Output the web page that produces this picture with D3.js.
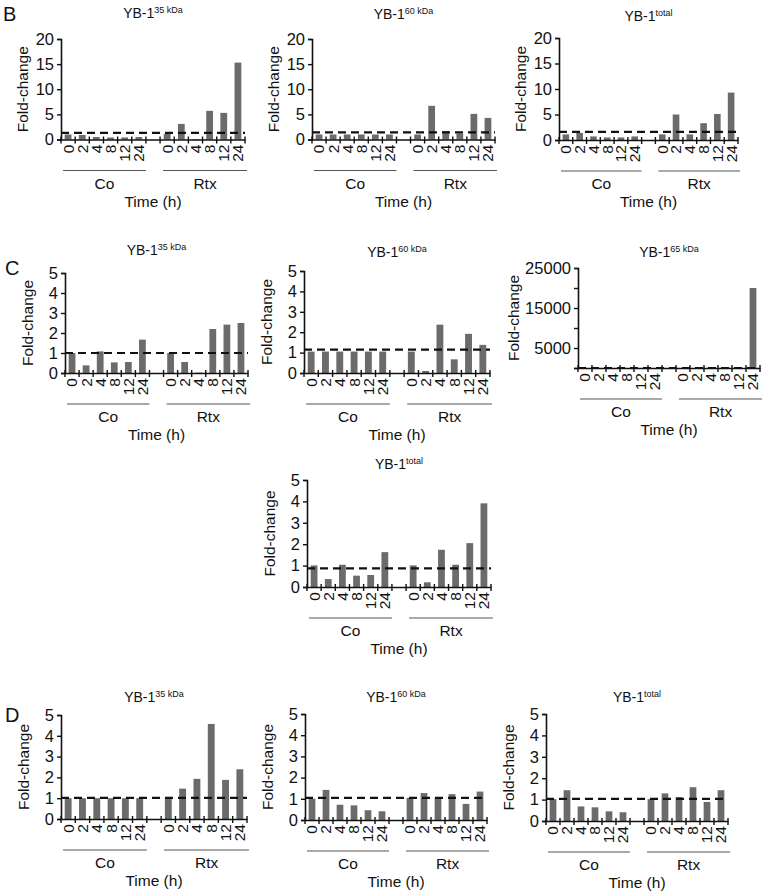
<!DOCTYPE html>
<html>
<head>
<meta charset="utf-8">
<script src="https://cdn.jsdelivr.net/npm/d3@7"></script>
<style>
  html, body { margin: 0; padding: 0; background: #fff; }
  svg { display: block; }
  text { font-family: "Liberation Sans", Arial, Helvetica, sans-serif; fill: #111; }
</style>
</head>
<body>
<svg id="chart" width="765" height="896"></svg>
<script>
// ---------------- DATA ----------------
const timePoints = ["0", "2", "4", "8", "12", "24"];
const groups = ["Co", "Rtx"];
const yTicks5 = [0, 1, 2, 3, 4, 5];
const yTicks20 = [0, 5, 10, 15, 20];
const yTicks25000 = [0, 5000, 10000, 15000, 20000, 25000];
const yTickLabels25000 = ["", "5000", "", "15000", "", "25000"];

// Panel B
const bTitles = ["35 kDa", "60 kDa", "total"];
const b35Co  = [1.0, 0.9, 0.5, 0.4, 0.4, 0.5];
const b35Rtx = [1.1, 3.1, 0.1, 5.7, 5.3, 15.3];
const b60Co  = [1.0, 1.0, 1.0, 1.0, 1.0, 1.0];
const b60Rtx = [1.0, 6.7, 1.7, 1.2, 5.1, 4.3];
const bTotCo  = [1.1, 1.4, 0.7, 0.5, 0.5, 0.7];
const bTotRtx = [1.1, 5.0, 1.1, 3.3, 5.1, 9.3];
const bThresholds = [1.3, 1.4, 1.6];

// Panel C
const cTitles = ["35 kDa", "60 kDa", "65 kDa", "total"];
const c35Co  = [1.0, 0.38, 1.08, 0.53, 0.55, 1.67];
const c35Rtx = [1.0, 0.55, 0.02, 2.2, 2.42, 2.5];
const c60Co  = [1.05, 1.05, 1.05, 1.05, 1.05, 1.05];
const c60Rtx = [1.05, 0.1, 2.37, 0.67, 1.92, 1.38];
const c65Co  = [1, 1, 1, 1, 1, 1];
const c65Rtx = [1, 2, 3, 5, 10, 20000];
const cTotCo  = [1.01, 0.37, 1.04, 0.53, 0.56, 1.63];
const cTotRtx = [1.01, 0.22, 1.74, 1.04, 2.05, 3.91];
const cThresholds = [1.0, 1.15, 1, 0.87];

// Panel D
const dTitles = ["35 kDa", "60 kDa", "total"];
const d35Co  = [1.0, 1.0, 1.0, 1.0, 1.0, 1.0];
const d35Rtx = [1.0, 1.46, 1.93, 4.57, 1.88, 2.39];
const d60Co  = [1.0, 1.42, 0.72, 0.69, 0.46, 0.41];
const d60Rtx = [1.04, 1.27, 1.04, 1.22, 0.76, 1.34];
const dTotCo  = [1.02, 1.44, 0.68, 0.64, 0.45, 0.41];
const dTotRtx = [1.02, 1.29, 1.12, 1.58, 0.89, 1.44];
const dThresholds = [1.02, 1.04, 1.03];

// ---------------- DRAWING ----------------
const svg = d3.select("#chart");
const BAR_COLOR = "#6b6b6b";
const FONT = "Liberation Sans, Arial, Helvetica, sans-serif";

function drawPanel(p) {
  const keys = [];
  timePoints.forEach(t => keys.push("Co|" + t));
  keys.push("gap");
  timePoints.forEach(t => keys.push("Rtx|" + t));

  const data = [];
  timePoints.forEach((t, i) => data.push({ key: "Co|" + t, v: p.co[i] }));
  timePoints.forEach((t, i) => data.push({ key: "Rtx|" + t, v: p.rtx[i] }));

  const x = d3.scaleBand().domain(keys).range([p.x0, p.x1]).paddingInner(0).paddingOuter(0);
  const y = d3.scaleLinear().domain([0, p.ymax]).range([p.yB, p.yT]);
  const g = svg.append("g");

  // bars
  const bw = x.bandwidth();
  const barW = bw * 0.48;
  g.selectAll("rect.bar").data(data).enter().append("rect")
    .attr("x", d => x(d.key) + (bw - barW) / 2)
    .attr("y", d => y(d.v))
    .attr("width", barW)
    .attr("height", d => Math.max(0, y(0) - y(d.v)))
    .attr("fill", BAR_COLOR);

  // y axis
  const yAxis = d3.axisLeft(y).tickValues(p.yTicks).tickSize(4).tickPadding(3)
    .tickFormat((d, i) => p.yTickLabels ? p.yTickLabels[i] : d3.format("d")(d));
  const ya = g.append("g").attr("transform", `translate(${p.x0},0)`).call(yAxis);
  ya.select(".domain").attr("stroke", "#111").attr("stroke-width", 1.6);
  ya.selectAll(".tick line").attr("stroke", "#111").attr("stroke-width", 1.4);
  ya.selectAll(".tick text").attr("font-size", 16.5).attr("font-family", FONT).attr("fill", "#111");

  // x axis
  const xAxis = d3.axisBottom(x).tickSize(0).tickPadding(0)
    .tickFormat(k => k === "gap" ? "" : k.split("|")[1]);
  const xa = g.append("g").attr("transform", `translate(0,${p.yB})`).call(xAxis);
  xa.select(".domain").attr("stroke", "#111").attr("stroke-width", 1.6);
  xa.selectAll(".tick text")
    .attr("font-size", 15.5).attr("font-family", FONT).attr("fill", "#111")
    .attr("transform", "rotate(-90)")
    .attr("x", -5).attr("y", 0).attr("dy", "0.35em")
    .style("text-anchor", "end");

  // boundary tick marks
  const bounds = d3.range(keys.length + 1).map(i => p.x0 + i * x.step());
  g.selectAll("line.btick").data(bounds).enter().append("line")
    .attr("x1", d => d).attr("x2", d => d)
    .attr("y1", p.yB - 3).attr("y2", p.yB + 4)
    .attr("stroke", "#111").attr("stroke-width", 1.4);

  // threshold dashed line
  g.append("line")
    .attr("x1", p.x0).attr("x2", p.x1)
    .attr("y1", y(p.thr)).attr("y2", y(p.thr))
    .attr("stroke", "#111").attr("stroke-width", 2.2)
    .attr("stroke-dasharray", "8,5");

  // group lines & labels
  const lineY = p.yB + 31;
  const coStart = p.x0 + 2, coEnd = x("Co|24") + bw;
  const rtStart = x("Rtx|0") + 3, rtEnd = p.x1 + 2;
  g.append("line").attr("x1", coStart).attr("x2", coEnd).attr("y1", lineY).attr("y2", lineY)
    .attr("stroke", "#555").attr("stroke-width", 1);
  g.append("line").attr("x1", rtStart).attr("x2", rtEnd).attr("y1", lineY).attr("y2", lineY)
    .attr("stroke", "#555").attr("stroke-width", 1);
  g.append("text").attr("x", (coStart + coEnd) / 2).attr("y", lineY + 18)
    .attr("text-anchor", "middle").attr("font-size", 15.5).text(groups[0]);
  g.append("text").attr("x", (rtStart + rtEnd) / 2).attr("y", lineY + 18)
    .attr("text-anchor", "middle").attr("font-size", 15.5).text(groups[1]);
  g.append("text").attr("x", (p.x0 + p.x1) / 2).attr("y", lineY + 36)
    .attr("text-anchor", "middle").attr("font-size", 15.5).text("Time (h)");

  // y label
  g.append("text")
    .attr("transform", `translate(${p.yLabelX},${(p.yT + p.yB) / 2}) rotate(-90)`)
    .attr("text-anchor", "middle").attr("font-size", 15.5).text("Fold-change");

  // title
  const t = g.append("text").attr("x", (p.x0 + p.x1) / 2).attr("y", p.titleY)
    .attr("text-anchor", "middle").attr("font-size", 14);
  t.append("tspan").text("YB-1");
  t.append("tspan").attr("font-size", 9).attr("dy", -5).text(p.sup);
}

const panels = [
  // Row B
  { x0: 61,  x1: 245, yT: 39,  yB: 139.5, ymax: 20, yTicks: yTicks20, co: b35Co,  rtx: b35Rtx,  thr: bThresholds[0], sup: bTitles[0], yLabelX: 28,  titleY: 18 },
  { x0: 312, x1: 495, yT: 39,  yB: 139.5, ymax: 20, yTicks: yTicks20, co: b60Co,  rtx: b60Rtx,  thr: bThresholds[1], sup: bTitles[1], yLabelX: 279, titleY: 19 },
  { x0: 559, x1: 738, yT: 38,  yB: 140,   ymax: 20, yTicks: yTicks20, co: bTotCo, rtx: bTotRtx, thr: bThresholds[2], sup: bTitles[2], yLabelX: 526, titleY: 21 },
  // Row C
  { x0: 65,  x1: 248, yT: 273, yB: 373, ymax: 5, yTicks: yTicks5, co: c35Co, rtx: c35Rtx, thr: cThresholds[0], sup: cTitles[0], yLabelX: 33,  titleY: 255 },
  { x0: 304, x1: 490, yT: 271, yB: 373, ymax: 5, yTicks: yTicks5, co: c60Co, rtx: c60Rtx, thr: cThresholds[1], sup: cTitles[1], yLabelX: 272, titleY: 257 },
  { x0: 578, x1: 760, yT: 268, yB: 368, ymax: 25000, yTicks: yTicks25000, yTickLabels: yTickLabels25000, co: c65Co, rtx: c65Rtx, thr: cThresholds[2], sup: cTitles[2], yLabelX: 519, titleY: 257 },
  { x0: 307, x1: 491, yT: 480, yB: 587, ymax: 5, yTicks: yTicks5, co: cTotCo, rtx: cTotRtx, thr: cThresholds[3], sup: cTitles[3], yLabelX: 275, titleY: 469 },
  // Row D
  { x0: 61,  x1: 247, yT: 715, yB: 819, ymax: 5, yTicks: yTicks5, co: d35Co,  rtx: d35Rtx,  thr: dThresholds[0], sup: dTitles[0], yLabelX: 29,  titleY: 702 },
  { x0: 305, x1: 487, yT: 714, yB: 820, ymax: 5, yTicks: yTicks5, co: d60Co,  rtx: d60Rtx,  thr: dThresholds[1], sup: dTitles[1], yLabelX: 273, titleY: 702 },
  { x0: 546, x1: 728, yT: 714, yB: 821, ymax: 5, yTicks: yTicks5, co: dTotCo, rtx: dTotRtx, thr: dThresholds[2], sup: dTitles[2], yLabelX: 514, titleY: 702 }
];

panels.forEach(drawPanel);

// panel letters
const letters = [["B", 3, 21], ["C", 5, 275], ["D", 5, 722]];
svg.selectAll("text.letter").data(letters).enter().append("text")
  .attr("class", "letter")
  .attr("x", d => d[1]).attr("y", d => d[2])
  .attr("font-size", 20).text(d => d[0]);
</script>
</body>
</html>
